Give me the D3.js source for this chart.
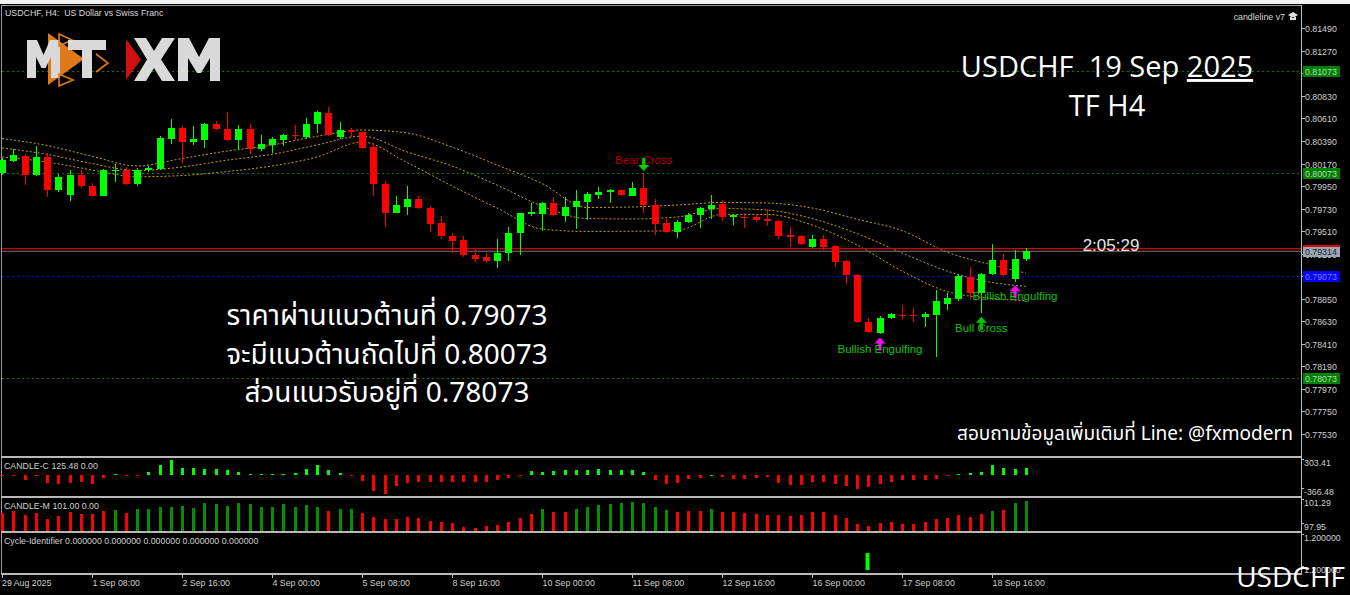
<!DOCTYPE html>
<html>
<head>
<meta charset="utf-8">
<script src="https://cdn.jsdelivr.net/npm/d3@7"></script>
<style>
  body { margin: 0; background: #000; }
  svg { display: block; }
</style>
</head>
<body>
<div id="chart"></div>
<script>
// ---- DATOS (USDCHF H4, 29 Aug - 19 Sep 2025) ----
var tickIdx = [0, 8, 16, 24, 32, 40, 48, 56, 64, 72, 80, 88];
var tickLabels = ['29 Aug 2025', '1 Sep 08:00', '2 Sep 16:00', '4 Sep 00:00', '5 Sep 08:00', '8 Sep 16:00',
    '10 Sep 00:00', '11 Sep 08:00', '12 Sep 16:00', '16 Sep 00:00', '17 Sep 08:00', '18 Sep 16:00'];
var priceTicks = [0.81490, 0.81270, 0.81050, 0.80830, 0.80610, 0.80390, 0.80170, 0.79950, 0.79730, 0.79510,
    0.79290, 0.79070, 0.78850, 0.78630, 0.78410, 0.78190, 0.77970, 0.77750, 0.77530];

var opens = [
    0.80081, 0.80198, 0.80244, 0.80061, 0.80237, 0.79912, 0.79863, 0.80055, 0.79954, 0.79856,
    0.80100, 0.80110, 0.79967, 0.80104, 0.80120, 0.80412, 0.80517, 0.80383, 0.80403, 0.80553,
    0.80510, 0.80400, 0.80510, 0.80312, 0.80351, 0.80403, 0.80446, 0.80432, 0.80556, 0.80660,
    0.80432, 0.80500, 0.80475, 0.80334, 0.79967, 0.79690, 0.79749, 0.79827, 0.79739, 0.79587,
    0.79463, 0.79424, 0.79280, 0.79255, 0.79219, 0.79294, 0.79489, 0.79680, 0.79675, 0.79782,
    0.79661, 0.79749, 0.79795, 0.79866, 0.79889, 0.79915, 0.79856, 0.79928, 0.79762, 0.79590,
    0.79499, 0.79599, 0.79665, 0.79726, 0.79775, 0.79645, 0.79651, 0.79651, 0.79629, 0.79609,
    0.79470, 0.79463, 0.79352, 0.79437, 0.79365, 0.79219, 0.79082, 0.78626, 0.78513, 0.78659,
    0.78695, 0.78695, 0.78675, 0.78692, 0.78799, 0.78848, 0.79066, 0.78903, 0.79092, 0.79229,
    0.79043, 0.79235];
var highs = [
    0.80224, 0.80309, 0.80263, 0.80344, 0.80270, 0.80068, 0.80107, 0.80107, 0.79977, 0.80117,
    0.80165, 0.80133, 0.80124, 0.80146, 0.80442, 0.80602, 0.80537, 0.80537, 0.80563, 0.80585,
    0.80673, 0.80546, 0.80556, 0.80449, 0.80432, 0.80455, 0.80546, 0.80612, 0.80683, 0.80719,
    0.80578, 0.80514, 0.80491, 0.80368, 0.80000, 0.79853, 0.79951, 0.79853, 0.79755, 0.79658,
    0.79489, 0.79463, 0.79336, 0.79294, 0.79437, 0.79554, 0.79690, 0.79788, 0.79797, 0.79846,
    0.79840, 0.79912, 0.79892, 0.79944, 0.79922, 0.79919, 0.79993, 0.80068, 0.79821, 0.79629,
    0.79619, 0.79690, 0.79749, 0.79863, 0.79814, 0.79677, 0.79690, 0.79675, 0.79723, 0.79619,
    0.79554, 0.79475, 0.79472, 0.79472, 0.79375, 0.79229, 0.79092, 0.78659, 0.78682, 0.78711,
    0.78789, 0.78763, 0.78724, 0.78936, 0.78903, 0.79092, 0.79157, 0.79102, 0.79382, 0.79287,
    0.79326, 0.79343];
var lows = [
    0.80058, 0.80185, 0.79958, 0.80048, 0.79846, 0.79895, 0.79807, 0.79928, 0.79846, 0.79853,
    0.79993, 0.79958, 0.79951, 0.80090, 0.80107, 0.80361, 0.80178, 0.80351, 0.80325, 0.80497,
    0.80393, 0.80302, 0.80263, 0.80295, 0.80270, 0.80341, 0.80400, 0.80407, 0.80471, 0.80439,
    0.80407, 0.80432, 0.80309, 0.79856, 0.79548, 0.79684, 0.79668, 0.79731, 0.79502, 0.79437,
    0.79294, 0.79261, 0.79212, 0.79196, 0.79147, 0.79222, 0.79274, 0.79661, 0.79515, 0.79661,
    0.79602, 0.79531, 0.79619, 0.79824, 0.79782, 0.79856, 0.79853, 0.79690, 0.79472, 0.79495,
    0.79440, 0.79587, 0.79544, 0.79626, 0.79612, 0.79570, 0.79541, 0.79602, 0.79560, 0.79431,
    0.79352, 0.79375, 0.79346, 0.79326, 0.79160, 0.78994, 0.78614, 0.78519, 0.78506, 0.78653,
    0.78650, 0.78626, 0.78578, 0.78279, 0.78741, 0.78831, 0.78838, 0.78708, 0.79082, 0.79072,
    0.79017, 0.79216];
var closes = [
    0.80204, 0.80250, 0.80061, 0.80234, 0.79912, 0.80042, 0.80061, 0.79951, 0.79856, 0.80104,
    0.80110, 0.79967, 0.80110, 0.80129, 0.80422, 0.80517, 0.80380, 0.80409, 0.80556, 0.80507,
    0.80403, 0.80510, 0.80309, 0.80361, 0.80407, 0.80446, 0.80436, 0.80556, 0.80670, 0.80446,
    0.80497, 0.80475, 0.80319, 0.79967, 0.79690, 0.79765, 0.79827, 0.79739, 0.79583, 0.79463,
    0.79417, 0.79274, 0.79238, 0.79219, 0.79297, 0.79489, 0.79684, 0.79697, 0.79782, 0.79665,
    0.79749, 0.79804, 0.79873, 0.79889, 0.79915, 0.79860, 0.79928, 0.79762, 0.79583, 0.79499,
    0.79602, 0.79671, 0.79736, 0.79768, 0.79645, 0.79668, 0.79641, 0.79619, 0.79609, 0.79466,
    0.79456, 0.79385, 0.79437, 0.79358, 0.79212, 0.79079, 0.78620, 0.78529, 0.78665, 0.78698,
    0.78685, 0.78682, 0.78698, 0.78828, 0.78860, 0.79075, 0.78903, 0.79092, 0.79229, 0.79079,
    0.79238, 0.79314];

// bandas (medias) leidas cada 4 velas
var bandIdx = [0, 4, 8, 12, 16, 20, 24, 28, 32, 36, 40, 44, 48, 52, 56, 60, 64, 68, 72, 76, 80, 84, 88, 91];
var bandUpper = [0.80414, 0.80346, 0.80241, 0.80146, 0.80219, 0.80292, 0.80351, 0.80436, 0.80497, 0.80468, 0.80331, 0.80156,
    0.79975, 0.79741, 0.79746, 0.79765, 0.79790, 0.79785, 0.79736, 0.79626, 0.79516, 0.79306, 0.79180, 0.79101];
var bandMid = [0.80322, 0.80260, 0.80170, 0.80102, 0.80136, 0.80203, 0.80260, 0.80351, 0.80437, 0.80283, 0.80146, 0.79960,
    0.79755, 0.79633, 0.79629, 0.79648, 0.79731, 0.79716, 0.79633, 0.79487, 0.79297, 0.79121, 0.79009, 0.78972];
var bandLow = [0.80234, 0.80185, 0.80107, 0.80041, 0.80053, 0.80092, 0.80146, 0.80234, 0.80380, 0.80180, 0.79951, 0.79736,
    0.79531, 0.79507, 0.79509, 0.79516, 0.79673, 0.79673, 0.79570, 0.79375, 0.79121, 0.78921, 0.78853, 0.78831];

// niveles horizontales
var levelPrices = [0.81073, 0.80073, 0.79073, 0.78073];
var levelColors = ['#008000', '#008000', '#0000ff', '#008000'];
var bidPrice = 0.79314;
var askPrice = 0.79340;

// CANDLE-C
var candleC = [
    -15, -15, -78, -15, -139, -151, -139, -121, -163, -42,
    15, -20, -10, 54, 193, 285, 139, 139, 121, 115,
    91, 60, 30, 30, 30, 30, 48, 115, 181, 91,
    36, -8, -103, -290, -335, -193, -133, -121, -121, -121,
    -121, -121, -121, -121, -91, -48, -12, 72, 54, 72,
    91, 103, 103, 115, 103, 91, 103, 60, -78, -151,
    -139, -66, -42, 10, -30, -66, -66, -48, -30, -139,
    -175, -175, -127, -127, -163, -187, -248, -217, -151, -121,
    -91, -78, -78, -66, -12, 30, 42, 60, 181, 133,
    121, 125.48];
// CANDLE-M
var candleM = [
    99.74, 99.97, 99.57, 99.74, 99.13, 99.50, 99.90, 99.67, 99.67, 99.97,
    100.08, 99.80, 100.15, 100.15, 100.35, 100.41, 100.51, 100.25, 100.81, 100.65,
    100.48, 100.78, 100.65, 100.35, 100.41, 100.65, 100.41, 100.58, 100.35, 99.97,
    100.21, 100.15, 99.80, 99.34, 99.13, 99.13, 99.40, 99.27, 98.99, 98.86,
    98.73, 98.39, 98.25, 98.46, 98.56, 98.86, 99.27, 99.67, 100.15, 99.90,
    99.90, 100.15, 100.41, 100.55, 100.68, 100.75, 100.92, 100.75, 100.35, 100.08,
    99.90, 99.97, 99.97, 100.18, 99.90, 99.84, 99.74, 99.67, 99.60, 99.53,
    99.47, 99.53, 99.87, 99.87, 99.53, 99.23, 98.66, 98.46, 98.76, 98.82,
    98.69, 98.69, 98.89, 99.16, 99.23, 99.57, 99.33, 99.67, 100.01, 100.08,
    100.81, 101.00];
var candleMUp = [
    0, 0, 0, 0, 0, 0, 0, 0, 0, 0,
    1, 0, 1, 1, 1, 1, 1, 1, 1, 1,
    1, 1, 1, 1, 1, 1, 1, 1, 1, 0,
    1, 1, 0, 0, 0, 0, 0, 0, 0, 0,
    0, 0, 0, 0, 0, 0, 0, 0, 1, 0,
    0, 1, 1, 1, 1, 1, 1, 1, 1, 1,
    0, 0, 0, 1, 0, 0, 0, 0, 0, 0,
    0, 0, 0, 0, 0, 0, 0, 0, 0, 0,
    0, 0, 0, 0, 0, 0, 0, 0, 1, 0,
    1, 1];
// Cycle-Identifier
var cycleIdx = [77];
var cycleVals = [0.7];

// senales
var signalIdx = [57, 78, 87, 90];
var signalText = ['Bear Cross', 'Bullish Engulfing', 'Bull Cross', 'Bullish Engulfing'];
var signalKind = ['bear', 'engulf', 'bull', 'engulf'];

// ---- DIBUJO ----
var W = 1350, H = 595;
var plotL = 2, plotR = 1301;
var axisFont = '"Liberation Sans", Arial, sans-serif';
var bigFont = '"Open Sans", "Noto Sans", sans-serif';

var svg = d3.select('#chart').append('svg').attr('width', W).attr('height', H);
svg.append('rect').attr('width', W).attr('height', H).attr('fill', '#000');
svg.append('rect').attr('width', W).attr('height', 4).attr('fill', '#f2f2f2');

// escalas
var x = d3.scaleLinear().domain([0, 91]).range([2, 1025.75]);
var y = d3.scaleLinear().domain([0.77530, 0.81490]).range([434, 28.3]);
var yC = d3.scaleLinear().domain([-366.48, 303.41]).range([495.5, 458.5]);
var yM = d3.scaleLinear().domain([97.95, 101.29]).range([531, 498]);
var yCy = d3.scaleLinear().domain([0, 1.2]).range([570, 541]);

function px(i) { return Math.round(x(i)); }

// marcos de paneles
var frame = svg.append('g').attr('shape-rendering', 'crispEdges');
frame.append('line').attr('x1', 1.5).attr('x2', 1.5).attr('y1', 5).attr('y2', 574).attr('stroke', '#9a9a9a');
frame.append('line').attr('x1', plotR + 0.5).attr('x2', plotR + 0.5).attr('y1', 5).attr('y2', 574).attr('stroke', '#bdbdbd');
frame.append('line').attr('x1', 1).attr('x2', plotR).attr('y1', 5.5).attr('y2', 5.5).attr('stroke', '#9a9a9a');
[456.5, 497, 532, 574].forEach(function (yy) {
    frame.append('line').attr('x1', 1).attr('x2', plotR + 1).attr('y1', yy).attr('y2', yy)
        .attr('stroke', '#b8b8b8').attr('stroke-width', 2);
});

// ---- PANEL PRINCIPAL ----
var main = svg.append('g');

// niveles punteados
main.selectAll('line.level').data(levelPrices).enter().append('line')
    .attr('x1', plotL).attr('x2', plotR)
    .attr('y1', function (d) { return Math.round(y(d)) + 0.5; })
    .attr('y2', function (d) { return Math.round(y(d)) + 0.5; })
    .attr('stroke', function (d, i) { return levelColors[i]; })
    .attr('stroke-dasharray', '2,3');

// bandas punteadas
var bandLine = d3.line()
    .x(function (d) { return x(d[0]); })
    .y(function (d) { return y(d[1]); })
    .curve(d3.curveMonotoneX);
[bandUpper, bandMid, bandLow].forEach(function (band) {
    main.append('path')
        .attr('d', bandLine(bandIdx.map(function (b, k) { return [b, band[k]]; })))
        .attr('fill', 'none')
        .attr('stroke', '#c9a200')
        .attr('stroke-width', 1)
        .attr('stroke-dasharray', '2,2');
});

// linea ask (roja) y bid (gris)
main.append('line').attr('x1', plotL).attr('x2', plotR)
    .attr('y1', y(askPrice)).attr('y2', y(askPrice)).attr('stroke', '#d00000').attr('stroke-width', 1.2);
main.append('line').attr('x1', plotL).attr('x2', plotR)
    .attr('y1', y(bidPrice)).attr('y2', y(bidPrice)).attr('stroke', '#7a7a7a').attr('stroke-width', 1.2);

// velas
var bars = opens.map(function (o, i) {
    return { i: i, o: o, h: highs[i], l: lows[i], c: closes[i] };
});
var gC = main.append('g').attr('shape-rendering', 'crispEdges');
gC.selectAll('line.wick').data(bars).enter().append('line')
    .attr('x1', function (d) { return px(d.i) + 0.5; })
    .attr('x2', function (d) { return px(d.i) + 0.5; })
    .attr('y1', function (d) { return y(d.h); })
    .attr('y2', function (d) { return y(d.l); })
    .attr('stroke', function (d) { return d.c >= d.o ? '#00ff00' : '#ff0000'; });
gC.selectAll('rect.body').data(bars).enter().append('rect')
    .attr('x', function (d) { return px(d.i) - 3; })
    .attr('width', 7)
    .attr('y', function (d) { return y(Math.max(d.o, d.c)); })
    .attr('height', function (d) { return Math.max(1, Math.abs(y(d.o) - y(d.c))); })
    .attr('fill', function (d) { return d.c >= d.o ? '#00ff00' : '#ff0000'; });

// flechas y textos de senales
function arrowPath(cx, tip, dir) {
    // dir = 1 flecha hacia arriba (punta arriba), -1 hacia abajo
    var hw = 5.5, head = 6, len = 13, sw = 1.6;
    var s = dir;
    return 'M' + cx + ',' + tip +
        'L' + (cx + hw) + ',' + (tip + s * head) +
        'L' + (cx + sw) + ',' + (tip + s * head) +
        'L' + (cx + sw) + ',' + (tip + s * len) +
        'L' + (cx - sw) + ',' + (tip + s * len) +
        'L' + (cx - sw) + ',' + (tip + s * head) +
        'L' + (cx - hw) + ',' + (tip + s * head) + 'Z';
}
signalIdx.forEach(function (i, k) {
    var cx = x(i) + 0.5;
    var kind = signalKind[k];
    if (kind === 'bear') {
        var tip = y(highs[i]) - 3;
        main.append('text').attr('x', cx).attr('y', tip - 7)
            .attr('text-anchor', 'middle').attr('font-family', axisFont).attr('font-size', '11.5px')
            .attr('fill', '#b40000').text(signalText[k]);
        main.append('path').attr('d', arrowPath(cx, tip, -1)).attr('fill', '#00d000');
    } else {
        var tipU = y(lows[i]) + 3.5;
        main.append('path').attr('d', arrowPath(cx, tipU, 1))
            .attr('fill', kind === 'bull' ? '#00c800' : '#ff00ff');
        main.append('text').attr('x', cx).attr('y', tipU + 15)
            .attr('text-anchor', 'middle').attr('font-family', axisFont).attr('font-size', '11.5px')
            .attr('fill', '#10c010').text(signalText[k]);
    }
});

// contador de vela
main.append('text').attr('x', 1111).attr('y', 251)
    .attr('text-anchor', 'middle').attr('font-family', axisFont).attr('font-size', '17px')
    .attr('fill', '#e6e6e6').text('2:05:29');

// titulo MT4
svg.append('text').attr('x', 5).attr('y', 16).attr('font-family', axisFont).attr('font-size', '8.8px')
    .attr('fill', '#d8d8d8').style('white-space', 'pre').text('USDCHF, H4:  US Dollar vs Swiss Franc');
svg.append('text').attr('x', 1285).attr('y', 20).attr('text-anchor', 'end').attr('font-family', axisFont)
    .attr('font-size', '8.8px').attr('fill', '#d8d8d8').text('candleline v7');
svg.append('path').attr('d', 'M1288,15 L1293,12 L1298,15 L1293,18 Z M1290,17 L1290,20 L1296,20 L1296,17')
    .attr('fill', '#e0e0e0');

// ---- LOGO ----
var logo = svg.append('g');
logo.append('path').attr('d', 'M48,33 L48,85 L84,59 Z').attr('fill', '#e07a18');
logo.append('path').attr('d', 'M27,78 L27,40 L37,40 L43.5,55 L50,40 L60,40 L60,78 L51,78 L51,57 L45.5,68 L41.5,68 L36,57 L36,78 Z')
    .attr('fill', '#d9d9d9');
logo.append('path').attr('d', 'M59,34 L59,46 L72,40 Z M59,74 L59,86 L73,80 Z M96,54 L108,63 L96,72')
    .attr('fill', 'none').attr('stroke', '#e07a18').attr('stroke-width', 1.6);
logo.append('path').attr('d', 'M68,40 L106,40 L106,50 L92,50 L92,78 L82,78 L82,50 L68,50 Z').attr('fill', '#d9d9d9');
logo.append('path').attr('d', 'M126,39 L126,80 L141,59.5 Z').attr('fill', '#d01010');
logo.append('path').attr('d', 'M134,38 L146,38 L154,51 L162,38 L175,38 L161,59.5 L175,81 L162,81 L154,68 L146,81 L134,81 L147,59.5 Z')
    .attr('fill', '#d9d9d9');
logo.append('path').attr('d', 'M178,81 L178,38 L189,38 L199,57 L209,38 L220,38 L220,81 L210,81 L210,58 L201,73 L197,73 L188,58 L188,81 Z')
    .attr('fill', '#d9d9d9');

// ---- TEXTOS GRANDES ----
var title = svg.append('text').attr('x', 1107).attr('y', 77).attr('text-anchor', 'middle')
    .attr('font-family', bigFont).attr('font-size', '29px').attr('fill', '#ffffff').style('white-space', 'pre');
title.append('tspan').text('USDCHF  19 Sep ');
title.append('tspan').style('text-decoration', 'underline').text('2025');
svg.append('text').attr('x', 1107).attr('y', 116).attr('text-anchor', 'middle')
    .attr('font-family', bigFont).attr('font-size', '29px').attr('fill', '#ffffff').text('TF H4');

var thaiFont = '"Noto Sans Thai", "Noto Sans Thai UI", "Leelawadee UI", Tahoma, "Noto Sans", sans-serif';
var thaiLines = ['ราคาผ่านแนวต้านที่ 0.79073', 'จะมีแนวต้านถัดไปที่ 0.80073', 'ส่วนแนวรับอยู่ที่ 0.78073'];
thaiLines.forEach(function (t, k) {
    svg.append('text').attr('x', 387).attr('y', 325 + k * 38.5).attr('text-anchor', 'middle')
        .attr('font-family', thaiFont).attr('font-size', '28px').attr('fill', '#ffffff').text(t);
});
svg.append('text').attr('x', 1293).attr('y', 440).attr('text-anchor', 'end')
    .attr('font-family', thaiFont).attr('font-size', '19px').attr('fill', '#ffffff')
    .text('สอบถามข้อมูลเพิ่มเติมที่ Line: @fxmodern');

// ---- EJE DE PRECIOS ----
var axisG = svg.append('g').attr('font-family', axisFont).attr('font-size', '8.8px');
priceTicks.forEach(function (p) {
    var yy = Math.round(y(p)) + 0.5;
    axisG.append('line').attr('x1', plotR).attr('x2', plotR + 4).attr('y1', yy).attr('y2', yy).attr('stroke', '#bdbdbd');
    axisG.append('text').attr('x', plotR + 4).attr('y', yy + 3.2).attr('fill', '#cfcfcf').text(p.toFixed(5));
});
// etiquetas de niveles
levelPrices.forEach(function (p, k) {
    var yy = Math.round(y(p));
    axisG.append('rect').attr('x', plotR + 2).attr('y', yy - 5).attr('width', 37).attr('height', 11)
        .attr('fill', levelColors[k]);
    axisG.append('text').attr('x', plotR + 4).attr('y', yy + 3.5)
        .attr('fill', k === 2 ? '#7f7fff' : '#b8d8b8').text(p.toFixed(5));
});
var yb = Math.round(y(bidPrice));
axisG.append('rect').attr('x', plotR + 2).attr('y', yb - 5).attr('width', 37).attr('height', 11).attr('fill', '#9aa6b4');
axisG.append('line').attr('x1', plotR + 2).attr('x2', plotR + 39).attr('y1', yb - 5).attr('y2', yb - 5).attr('stroke', '#e00000').attr('stroke-width', 2);
axisG.append('text').attr('x', plotR + 4).attr('y', yb + 3.5).attr('fill', '#1a2230').text(bidPrice.toFixed(5));

// ---- PANEL CANDLE-C ----
var gCc = svg.append('g').attr('shape-rendering', 'crispEdges');
gCc.selectAll('rect').data(candleC).enter().append('rect')
    .attr('x', function (d, i) { return px(i) - 1; })
    .attr('width', 3)
    .attr('y', function (d) { return Math.min(yC(d), yC(0)); })
    .attr('height', function (d) { return Math.max(1, Math.abs(yC(d) - yC(0))); })
    .attr('fill', function (d) { return d >= 0 ? '#00ff00' : '#ff0000'; });
svg.append('text').attr('x', 4).attr('y', 468.5).attr('font-family', axisFont).attr('font-size', '8.8px')
    .attr('fill', '#d0d0d0').text('CANDLE-C 125.48 0.00');

// ---- PANEL CANDLE-M ----
var gMm = svg.append('g').attr('shape-rendering', 'crispEdges');
gMm.selectAll('rect').data(candleM).enter().append('rect')
    .attr('x', function (d, i) { return px(i) - 1; })
    .attr('width', 3)
    .attr('y', function (d) { return yM(d); })
    .attr('height', function (d) { return yM.range()[0] - yM(d); })
    .attr('fill', function (d, i) { return candleMUp[i] ? '#009000' : '#ff0000'; });
svg.append('text').attr('x', 4).attr('y', 508.5).attr('font-family', axisFont).attr('font-size', '8.8px')
    .attr('fill', '#d0d0d0').text('CANDLE-M 101.00 0.00');

// ---- PANEL CYCLE-IDENTIFIER ----
svg.append('g').selectAll('rect').data(cycleIdx).enter().append('rect')
    .attr('x', function (d) { return px(d) - 2.5; })
    .attr('width', 4)
    .attr('y', function (d, k) { return yCy(cycleVals[k]); })
    .attr('height', function (d, k) { return yCy(0) - yCy(cycleVals[k]); })
    .attr('fill', '#00ff00');
svg.append('text').attr('x', 4).attr('y', 543.5).attr('font-family', axisFont).attr('font-size', '8.8px')
    .attr('fill', '#d0d0d0').text('Cycle-Identifier 0.000000 0.000000 0.000000 0.000000 0.000000');

// etiquetas de escala de indicadores
var subLabels = [[303.41, 463], [-366.48, 492], [101.29, 503], [97.95, 527], [1.2, 538], [1.2, 570]];
subLabels.forEach(function (s, k) {
    var txt = k >= 4 ? s[0].toFixed(6) : s[0].toFixed(2);
    axisG.append('line').attr('x1', plotR).attr('x2', plotR + 3).attr('y1', s[1] - 3.5).attr('y2', s[1] - 3.5).attr('stroke', '#bdbdbd');
    axisG.append('text').attr('x', plotR + 3).attr('y', s[1] + 3.2).attr('fill', '#cfcfcf').text(txt);
});

// ---- EJE DE TIEMPO ----
tickIdx.forEach(function (t, k) {
    var xx = px(t) + 0.5;
    axisG.append('line').attr('x1', xx).attr('x2', xx).attr('y1', 574).attr('y2', 578).attr('stroke', '#bdbdbd');
    axisG.append('text').attr('x', k === 0 ? 2 : xx).attr('y', 585.5).attr('fill', '#cfcfcf').text(tickLabels[k]);
});

// marca de agua inferior
svg.append('text').attr('x', 1345).attr('y', 587).attr('text-anchor', 'end')
    .attr('font-family', bigFont).attr('font-size', '28px').attr('fill', '#ffffff').text('USDCHF');
</script>
</body>
</html>
